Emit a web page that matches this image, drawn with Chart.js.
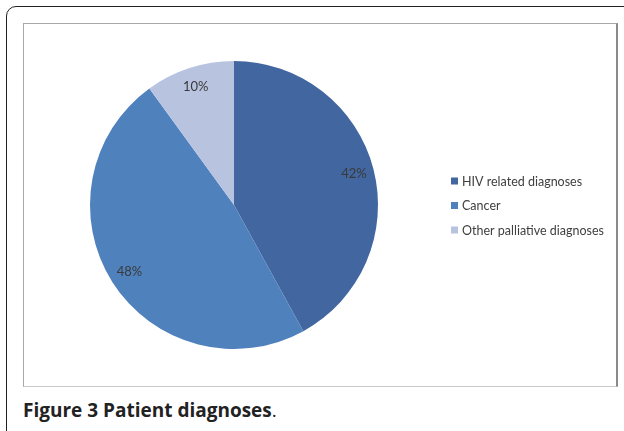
<!DOCTYPE html>
<html>
<head>
<meta charset="utf-8">
<script src="https://cdn.jsdelivr.net/npm/chart.js@4/dist/chart.umd.min.js"></script>
<style>
  html, body { margin: 0; padding: 0; background: #fff; width: 624px; height: 431px; overflow: hidden; }
  #frame { position: absolute; left: 6px; top: 6px; width: 630px; height: 440px; border: 1.5px solid #222; border-radius: 10px; box-sizing: border-box; }
  #box { position: absolute; left: 23px; top: 23px; width: 595px; height: 364px; border: 1px solid #a8a8a8; border-right: 2px solid #8a8a8a; border-bottom-color: #c8c8c8; box-sizing: border-box; background: #fff; }
  #wrap { position: absolute; left: 24px; top: 24px; width: 592px; height: 361px; }
  #caption { position: absolute; left: 23px; top: 397px; font-family: "Open Sans", sans-serif; font-size: 19px; color: #222; white-space: nowrap; }
  #caption b { font-weight: 700; }
</style>
</head>
<body>
<div id="frame"></div>
<div id="box"></div>
<div id="wrap"><canvas id="c" width="592" height="361"></canvas></div>
<div id="caption"><b>Figure 3</b> <b>Patient diagnoses</b>.</div>
<script>
const categories = ["HIV related diagnoses", "Cancer", "Other palliative diagnoses"];
const values = [42, 48, 10];
const pctLabels = ["42%", "48%", "10%"];
const colors = ["#4166A0", "#4F81BD", "#B8C3E0"];

const labelPlugin = {
  id: 'sliceLabels',
  afterDatasetsDraw(chart) {
    const ctx = chart.ctx;
    const meta = chart.getDatasetMeta(0);
    ctx.save();
    ctx.font = '13px Lato, sans-serif';
    ctx.fillStyle = '#3a3a3a';
    ctx.textAlign = 'center';
    ctx.textBaseline = 'middle';
    meta.data.forEach((arc, i) => {
      const mid = (arc.startAngle + arc.endAngle) / 2;
      const r = arc.outerRadius * 0.86;
      ctx.fillText(pctLabels[i], arc.x + Math.cos(mid) * r, arc.y + Math.sin(mid) * r);
    });
    ctx.restore();
  }
};

const legendPlugin = {
  id: 'sideLegend',
  afterDraw(chart) {
    const ctx = chart.ctx;
    const x0 = 427, y0 = 157, gap = 24.5;
    ctx.save();
    ctx.font = '12.5px Lato, sans-serif';
    ctx.textBaseline = 'middle';
    ctx.textAlign = 'left';
    categories.forEach((name, i) => {
      const y = y0 + i * gap;
      ctx.fillStyle = colors[i];
      ctx.fillRect(x0, y - 3.5, 7, 7);
      ctx.fillStyle = '#404040';
      ctx.fillText(name, x0 + 11, y + 0.5);
    });
    ctx.restore();
  }
};

new Chart(document.getElementById('c'), {
  type: 'pie',
  data: {
    labels: categories,
    datasets: [{ data: values, backgroundColor: colors, borderWidth: 0 }]
  },
  options: {
    responsive: false,
    animation: false,
    layout: { padding: { top: 37, bottom: 36, left: 66, right: 238 } },
    plugins: { legend: { display: false }, tooltip: { enabled: false } }
  },
  plugins: [labelPlugin, legendPlugin]
});
</script>
</body>
</html>
